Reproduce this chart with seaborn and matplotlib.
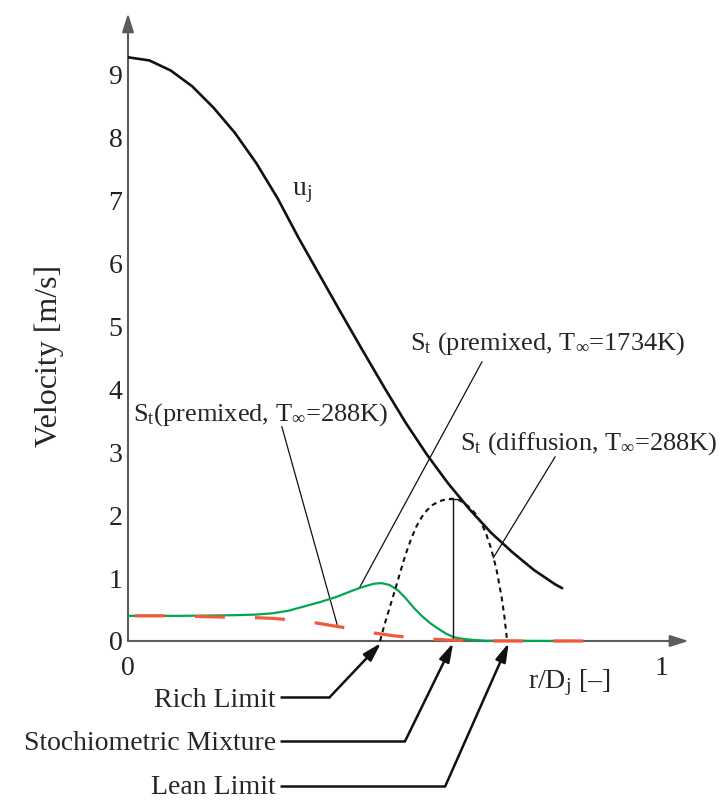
import matplotlib
matplotlib.use("Agg")
import matplotlib.pyplot as plt
import seaborn as sns

# ---------------- data ----------------
uj_r = [0.0, 0.04, 0.08, 0.12, 0.16, 0.20, 0.24, 0.28, 0.32, 0.36, 0.40,
        0.44, 0.48, 0.52, 0.56, 0.60, 0.64, 0.68, 0.72, 0.76, 0.80, 0.813]
uj_v = [9.28, 9.23, 9.07, 8.82, 8.48, 8.08, 7.60, 7.04, 6.40, 5.80, 5.20,
        4.61, 4.03, 3.47, 2.96, 2.50, 2.09, 1.72, 1.41, 1.13, 0.90, 0.84]

st1734_r = [0.0, 0.1, 0.2, 0.24, 0.27, 0.30, 0.33, 0.36, 0.39, 0.42, 0.44,
            0.46, 0.475, 0.49, 0.505, 0.52, 0.535, 0.55, 0.565, 0.58, 0.595,
            0.61, 0.63, 0.65, 0.67, 0.83]
st1734_v = [0.40, 0.40, 0.41, 0.42, 0.44, 0.48, 0.55, 0.62, 0.70, 0.80, 0.86,
            0.91, 0.92, 0.89, 0.81, 0.68, 0.53, 0.40, 0.29, 0.20, 0.12,
            0.06, 0.03, 0.015, 0.005, 0.0]

st288_r = [0.0, 0.07, 0.13, 0.18, 0.24, 0.27, 0.30, 0.35, 0.40, 0.45, 0.50,
           0.55, 0.60, 0.65, 0.86]
st288_v = [0.40, 0.40, 0.39, 0.38, 0.37, 0.36, 0.34, 0.29, 0.22, 0.14, 0.08,
           0.04, 0.015, 0.0, 0.0]

diff_r = [0.472, 0.48, 0.49, 0.50, 0.51, 0.52, 0.53, 0.54, 0.55, 0.56, 0.57,
          0.58, 0.59, 0.60, 0.61, 0.62, 0.63, 0.64, 0.65, 0.66, 0.67, 0.68,
          0.69, 0.70, 0.705, 0.710]
diff_v = [0.0, 0.25, 0.53, 0.81, 1.10, 1.38, 1.62, 1.82, 1.97, 2.08, 2.16,
          2.21, 2.24, 2.26, 2.26, 2.24, 2.19, 2.12, 2.03, 1.90, 1.72, 1.47,
          1.14, 0.68, 0.38, 0.0]

stoich_r = 0.609
stoich_v = 2.26
rich_r = 0.474
lean_r = 0.713

yticks = [0, 1, 2, 3, 4, 5, 6, 7, 8, 9]
xticks = [0, 0.5, 1]
xticklabels = ["0", "", "1"]

# ---------------- style ----------------
sns.set_style("white")
plt.rcParams['font.family'] = ['Liberation Serif', 'DejaVu Serif']
plt.rcParams['mathtext.fontset'] = 'custom'
plt.rcParams['mathtext.rm'] = 'Liberation Serif'
plt.rcParams['mathtext.it'] = 'Liberation Serif:italic'
plt.rcParams['mathtext.bf'] = 'Liberation Serif:bold'
plt.rcParams['lines.scale_dashes'] = False

GREY = '#5c5c5c'
GREEN = '#00a650'
RED = '#f05a3a'
FS = 20
FS_ST = 19

fig = plt.figure(figsize=(7.23, 8.01), dpi=100)
ax = fig.add_axes([128 / 723, 160 / 801, 1.05 * 534 / 723, 10 * 62.9 / 801])
ax.set_xlim(0, 1.05)
ax.set_ylim(0, 10)
for s in ax.spines.values():
    s.set_visible(False)

# axis arrows
arrow_kw = dict(arrowstyle='-|>,head_length=0.7,head_width=0.22', color=GREY,
                lw=1.5, mutation_scale=16, shrinkA=0, shrinkB=0)
ax.annotate('', xy=(1.05, 0), xytext=(0, 0), arrowprops=arrow_kw,
            annotation_clip=False, zorder=0.5)
ax.annotate('', xy=(0, 9.98), xytext=(0, 0), arrowprops=arrow_kw,
            annotation_clip=False, zorder=0.5)

ax.set_yticks(yticks)
ax.set_yticklabels([str(v) for v in yticks])
ax.set_xticks(xticks)
ax.set_xticklabels(xticklabels)
ax.tick_params(axis='both', direction='in', length=5, width=1.2, color=GREY,
               labelsize=FS, labelcolor='#222222')
ax.tick_params(axis='y', pad=4)
ax.tick_params(axis='x', pad=11)

# ---------------- curves ----------------
sns.lineplot(x=uj_r, y=uj_v, color='#111111', lw=1.9, ax=ax, zorder=3)
sns.lineplot(x=st1734_r, y=st1734_v, color=GREEN, lw=1.6, ax=ax, zorder=3,
             clip_on=False)
sns.lineplot(x=st288_r, y=st288_v, color=RED, lw=2.3, ax=ax, zorder=4,
             linestyle=(38.2, (21.6, 21.6)), clip_on=False)
sns.lineplot(x=diff_r, y=diff_v, color='#111111', lw=1.5, ax=ax, zorder=3,
             linestyle=(0, (3.6, 3.0)), clip_on=False)
ax.plot([stoich_r, stoich_r], [0, stoich_v], color='#111111', lw=1.0, zorder=3)
ax.plot([stoich_r - 0.008, stoich_r + 0.008], [stoich_v, stoich_v],
        color='#111111', lw=1.0, zorder=3)

# ---------------- labels ----------------
ax.text(0.307, 7.09, r'u$_\mathrm{j}$', fontsize=FS, va='baseline', ha='left')

ax.text(0.009, 3.51, r'S$_\mathrm{t}$(premixed, T$_\infty$=288K)',
        fontsize=FS_ST, va='baseline', ha='left')
ax.plot([0.288, 0.393], [3.41, 0.22], color='#111111', lw=0.9)

ax.text(0.528, 4.63, r'S$_\mathrm{t}$ (premixed, T$_\infty$=1734K)',
        fontsize=FS_ST, va='baseline', ha='left')
ax.plot([0.663, 0.433], [4.44, 0.84], color='#111111', lw=0.9)

ax.text(0.622, 3.04, r'S$_\mathrm{t}$ (diffusion, T$_\infty$=288K)',
        fontsize=FS_ST, va='baseline', ha='left')
ax.plot([0.800, 0.684], [2.93, 1.32], color='#111111', lw=0.9)

ax.set_xlabel(r'r/D$_\mathrm{j}$ [–]', fontsize=FS)
ax.xaxis.set_label_coords(0.713, -0.0668)
ax.xaxis.label.set_ha('left')
ax.xaxis.label.set_va('center')

ax.set_ylabel('Velocity [m/s]', fontsize=23)
ax.yaxis.set_label_coords(-0.141, 0.453)
ax.yaxis.label.set_va('center')

# limit annotations
lim_kw = dict(arrowstyle='-|>,head_length=0.7,head_width=0.2', color='#111111',
              lw=1.8, mutation_scale=16, shrinkA=0, shrinkB=0)
limits = [("Rich Limit", -1.05, -0.89, 0.378, rich_r),
          ("Stochiometric Mixture", -1.73, -1.59, 0.519, stoich_r),
          ("Lean Limit", -2.44, -2.31, 0.594, lean_r)]
for label, base_y, line_y, corner_x, tip_x in limits:
    ax.text(0.277, base_y, label, fontsize=FS, ha='right', va='baseline',
            clip_on=False)
    ax.plot([0.285, corner_x], [line_y, line_y], color='#111111', lw=1.8,
            clip_on=False, solid_capstyle='butt')
    ax.annotate('', xy=(tip_x, -0.03), xytext=(corner_x, line_y),
                arrowprops=lim_kw, annotation_clip=False)

fig.savefig('out.png', dpi=100)
